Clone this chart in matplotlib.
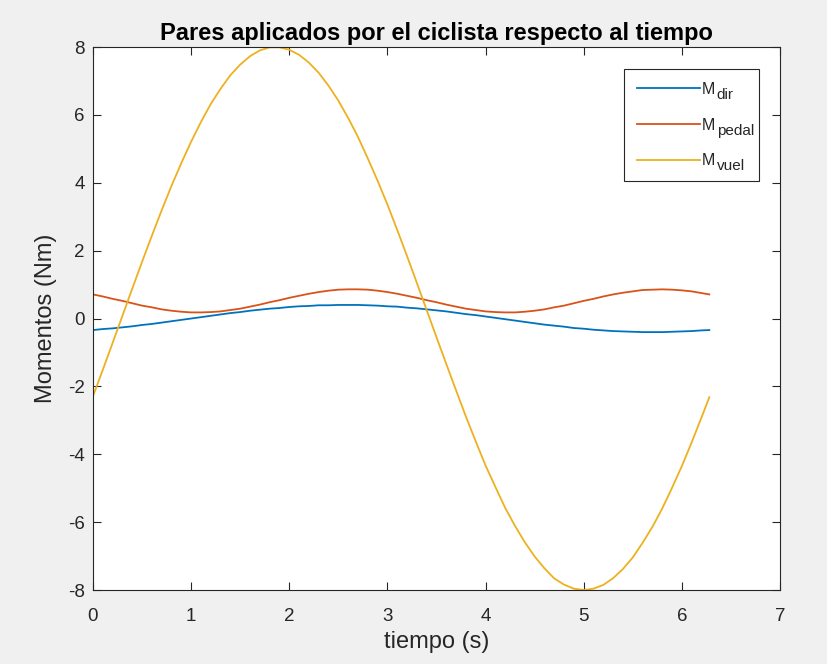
import matplotlib.pyplot as plt

t = [0.0, 0.1, 0.2, 0.3, 0.4, 0.5, 0.6, 0.7, 0.8, 0.9,
     1.0, 1.1, 1.2, 1.3, 1.4, 1.5, 1.6, 1.7, 1.8, 1.9,
     2.0, 2.1, 2.2, 2.3, 2.4, 2.5, 2.6, 2.7, 2.8, 2.9,
     3.0, 3.1, 3.2, 3.3, 3.4, 3.5, 3.6, 3.7, 3.8, 3.9,
     4.0, 4.1, 4.2, 4.3, 4.4, 4.5, 4.6, 4.7, 4.8, 4.9,
     5.0, 5.1, 5.2, 5.3, 5.4, 5.5, 5.6, 5.7, 5.8, 5.9,
     6.0, 6.1, 6.2, 6.28]
M_dir = [-0.34, -0.31, -0.29, -0.26, -0.23, -0.19, -0.16, -0.12, -0.08, -0.04,
         0.00, 0.04, 0.08, 0.12, 0.16, 0.19, 0.23, 0.26, 0.29, 0.31,
         0.34, 0.36, 0.37, 0.39, 0.39, 0.40, 0.40, 0.40, 0.39, 0.38,
         0.36, 0.35, 0.32, 0.30, 0.27, 0.24, 0.21, 0.17, 0.13, 0.10,
         0.06, 0.02, -0.02, -0.06, -0.10, -0.14, -0.18, -0.21, -0.24, -0.28,
         -0.30, -0.33, -0.35, -0.37, -0.38, -0.39, -0.40, -0.40, -0.40, -0.39,
         -0.38, -0.37, -0.35, -0.34]
M_pedal = [0.71, 0.65, 0.58, 0.52, 0.45, 0.38, 0.33, 0.27, 0.23, 0.20,
           0.18, 0.18, 0.19, 0.21, 0.25, 0.29, 0.35, 0.41, 0.48, 0.54,
           0.61, 0.67, 0.73, 0.78, 0.82, 0.85, 0.86, 0.86, 0.85, 0.82,
           0.78, 0.73, 0.67, 0.61, 0.54, 0.48, 0.41, 0.35, 0.29, 0.25,
           0.21, 0.19, 0.18, 0.18, 0.20, 0.23, 0.27, 0.33, 0.38, 0.45,
           0.52, 0.58, 0.65, 0.71, 0.76, 0.80, 0.84, 0.85, 0.86, 0.85,
           0.83, 0.80, 0.75, 0.71]
M_vuel = [-2.29, -1.51, -0.72, 0.08, 0.88, 1.67, 2.44, 3.19, 3.91, 4.58,
          5.21, 5.79, 6.32, 6.77, 7.17, 7.48, 7.73, 7.90, 7.99, 7.99,
          7.92, 7.77, 7.54, 7.24, 6.86, 6.42, 5.91, 5.35, 4.72, 4.06,
          3.36, 2.61, 1.84, 1.05, 0.25, -0.55, -1.34, -2.12, -2.89, -3.62,
          -4.33, -4.96, -5.58, -6.11, -6.59, -7.01, -7.36, -7.66, -7.84, -7.96,
          -8.00, -7.96, -7.85, -7.65, -7.38, -7.04, -6.61, -6.14, -5.60, -4.99,
          -4.35, -3.65, -2.92, -2.32]

series = [M_dir, M_pedal, M_vuel]
subs = ['dir', 'pedal', 'vuel']
colors = ['#0072BD', '#D95319', '#EDB120']

plt.rcParams['font.family'] = ['Liberation Sans', 'DejaVu Sans']
plt.rcParams['axes.unicode_minus'] = False

fig = plt.figure(figsize=(8.28, 6.64), dpi=100, facecolor='#f0f0f0')
ax = fig.add_axes([0.1123, 0.1114, 0.8297, 0.8178])

for y, c in zip(series, colors):
    ax.plot(t, y, color=c, lw=1.3, label='M')

ax.set_xlim(0, 7)
ax.set_ylim(-8, 8)
ax.set_xticks(range(0, 8))
ax.set_yticks(range(-8, 9, 2))
ax.tick_params(direction='in', length=6, width=0.8, top=True, right=True,
               labelsize=13.5, colors='#262626')
ax.tick_params(axis='x', pad=13)
ax.tick_params(axis='y', pad=6)
for s in ax.spines.values():
    s.set_color('#262626')
    s.set_linewidth(0.8)

ax.set_title('Pares aplicados por el ciclista respecto al tiempo',
             fontsize=17, fontweight='bold', color='black', pad=5)
ax.set_xlabel('tiempo (s)', fontsize=17, color='#262626', labelpad=4)
ax.set_ylabel('Momentos (Nm)', fontsize=17, color='#262626', labelpad=8)

# leyenda de ancho fijo (mode='expand') para dejar sitio a los subíndices
fs = 11.5
leg = ax.legend(loc='upper left', bbox_to_anchor=(0.773, 0.7, 0.1965, 0.2595),
                mode='expand', borderaxespad=0, fontsize=fs, fancybox=False,
                framealpha=1, edgecolor='#262626', handlelength=3.95,
                handletextpad=0.12, borderpad=0.8, labelspacing=1.3)
leg.get_frame().set_linewidth(0.8)
for txt in leg.get_texts():
    txt.set_color('#262626')

# subíndices junto a cada M, algo más bajos
for txt, sub in zip(leg.get_texts(), subs):
    ax.annotate(sub, xy=(1, 0), xycoords=txt, xytext=(1.5, -5),
                textcoords='offset pixels', ha='left', va='bottom',
                fontsize=11, color='#262626', zorder=6)

fig.savefig('out.png', dpi=100, facecolor=fig.get_facecolor())
